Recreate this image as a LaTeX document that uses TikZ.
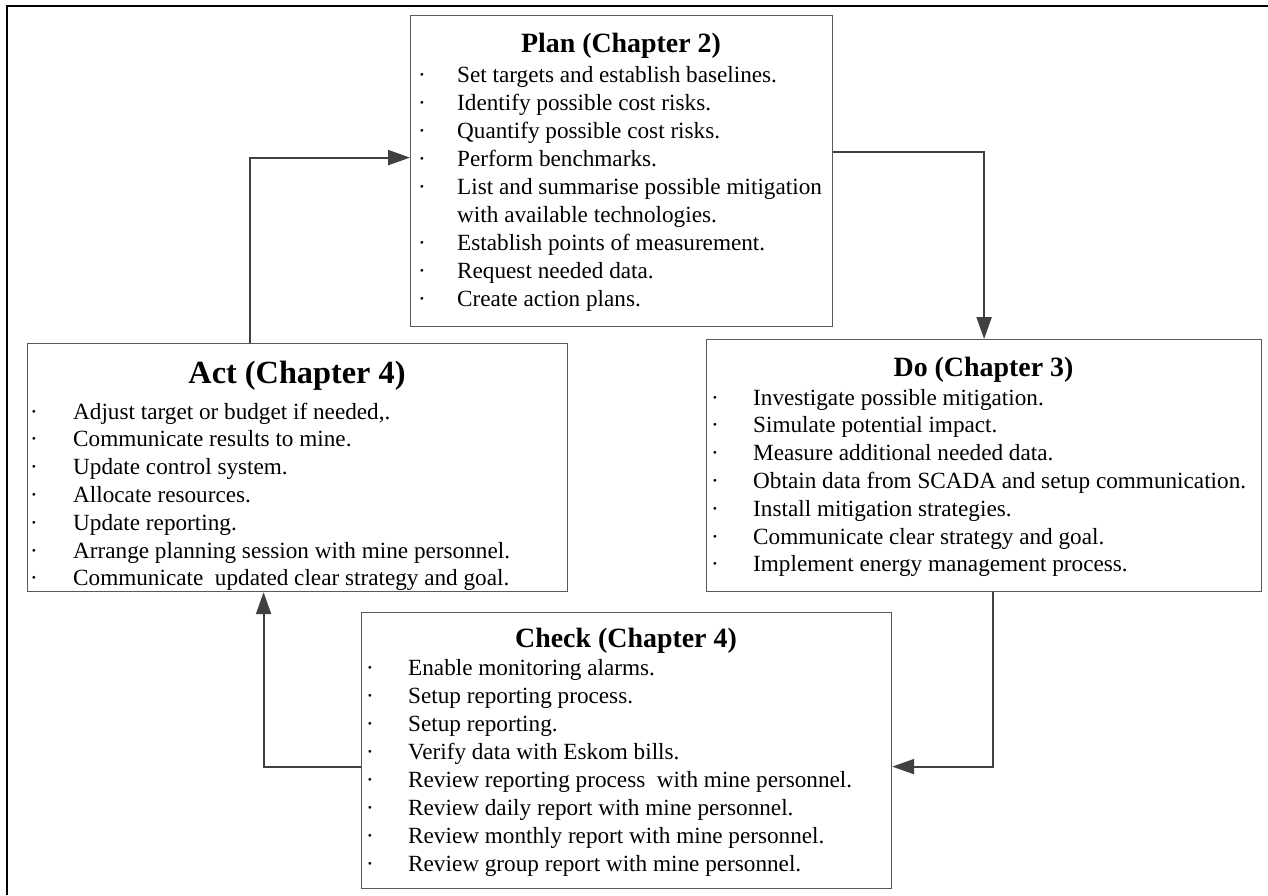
\documentclass[tikz,border=0pt]{standalone}
\usepackage{fontspec}
\setmainfont{Liberation Serif}
\usetikzlibrary{arrows.meta}
\definecolor{boxgray}{HTML}{5A5A5A}
\definecolor{conngray}{HTML}{404040}
\newlength{\bw}
\newcommand{\myitem}[1]{\makebox[\bw][l]{·}#1}
\newcommand{\mycont}[1]{\makebox[\bw][l]{}#1}
\begin{document}
\begin{tikzpicture}[x=1pt,y=-1pt,
  box/.style={draw=boxgray,line width=1.2pt,inner sep=0pt,anchor=north west},
  conn/.style={draw=conngray,line width=2.2pt,-{Triangle[length=22pt,width=15pt]}},
  body/.style={inner sep=0pt,anchor=base west,font=\fontsize{23.2pt}{28pt}\selectfont},
  bodyb/.style={inner sep=0pt,anchor=base west,font=\fontsize{23.2pt}{27.8pt}\selectfont},
  ttl/.style={inner sep=0pt,anchor=base,font=\fontsize{27.9pt}{32pt}\selectfont\bfseries},
  ttlbig/.style={inner sep=0pt,anchor=base,font=\fontsize{32.3pt}{36pt}\selectfont\bfseries}]
\useasboundingbox (0,0) rectangle (1268,895);
\draw[line width=1.8pt] (7,895) -- (7,6) -- (1268,6);

% boxes
\node[box,minimum width=422pt,minimum height=311pt] (plan) at (410,15) {};
\node[box,minimum width=555pt,minimum height=252pt] (do) at (706,339) {};
\node[box,minimum width=540pt,minimum height=248pt] (act) at (27,343) {};
\node[box,minimum width=530pt,minimum height=276pt] (check) at (361,612) {};

% Plan
\node[ttl] (plantitle) at (621,52) {Plan (Chapter 2)};
\node[body] (planlist) at (418,82) {\setlength{\bw}{39pt}\begin{tabular}[t]{@{}l@{}}
\myitem{Set targets and establish baselines.}\\
\myitem{Identify possible cost risks.}\\
\myitem{Quantify possible cost risks.}\\
\myitem{Perform benchmarks.}\\
\myitem{List and summarise possible mitigation}\\
\mycont{with available technologies.}\\
\myitem{Establish points of measurement.}\\
\myitem{Request needed data.}\\
\myitem{Create action plans.}
\end{tabular}};

% Do
\node[ttl] (dotitle) at (983.5,376) {Do (Chapter 3)};
\node[bodyb] (dolist) at (711,405) {\setlength{\bw}{42pt}\begin{tabular}[t]{@{}l@{}}
\myitem{Investigate possible mitigation.}\\
\myitem{Simulate potential impact.}\\
\myitem{Measure additional needed data.}\\
\myitem{Obtain data from SCADA and setup communication.}\\
\myitem{Install mitigation strategies.}\\
\myitem{Communicate clear strategy and goal.}\\
\myitem{Implement energy management process.}
\end{tabular}};

% Act
\node[ttlbig] (acttitle) at (297,383) {Act (Chapter 4)};
\node[bodyb] (actlist) at (30,419) {\setlength{\bw}{43pt}\begin{tabular}[t]{@{}l@{}}
\myitem{Adjust target or budget if needed,.}\\
\myitem{Communicate results to mine.}\\
\myitem{Update control system.}\\
\myitem{Allocate resources.}\\
\myitem{Update reporting.}\\
\myitem{Arrange planning session with mine personnel.}\\
\myitem{Communicate\ \ updated clear strategy and goal.}
\end{tabular}};

% Check
\node[ttl] (checktitle) at (626,647) {Check (Chapter 4)};
\node[body] (checklist) at (366,675) {\setlength{\bw}{42pt}\begin{tabular}[t]{@{}l@{}}
\myitem{Enable monitoring alarms.}\\
\myitem{Setup reporting process.}\\
\myitem{Setup reporting.}\\
\myitem{Verify data with Eskom bills.}\\
\myitem{Review reporting process\ \ with mine personnel.}\\
\myitem{Review daily report with mine personnel.}\\
\myitem{Review monthly report with mine personnel.}\\
\myitem{Review group report with mine personnel.}
\end{tabular}};

% connectors
\draw[conn] ([yshift=19.5pt]plan.east) -| (do.north);
\draw[conn] ([xshift=8.5pt]do.south) |- ([yshift=-16pt]check.east);
\draw[conn] ([yshift=-16pt]check.west) -| ([xshift=-34pt]act.south);
\draw[conn] ([xshift=-48pt]act.north) |- ([yshift=13.5pt]plan.west);
\end{tikzpicture}
\end{document}
